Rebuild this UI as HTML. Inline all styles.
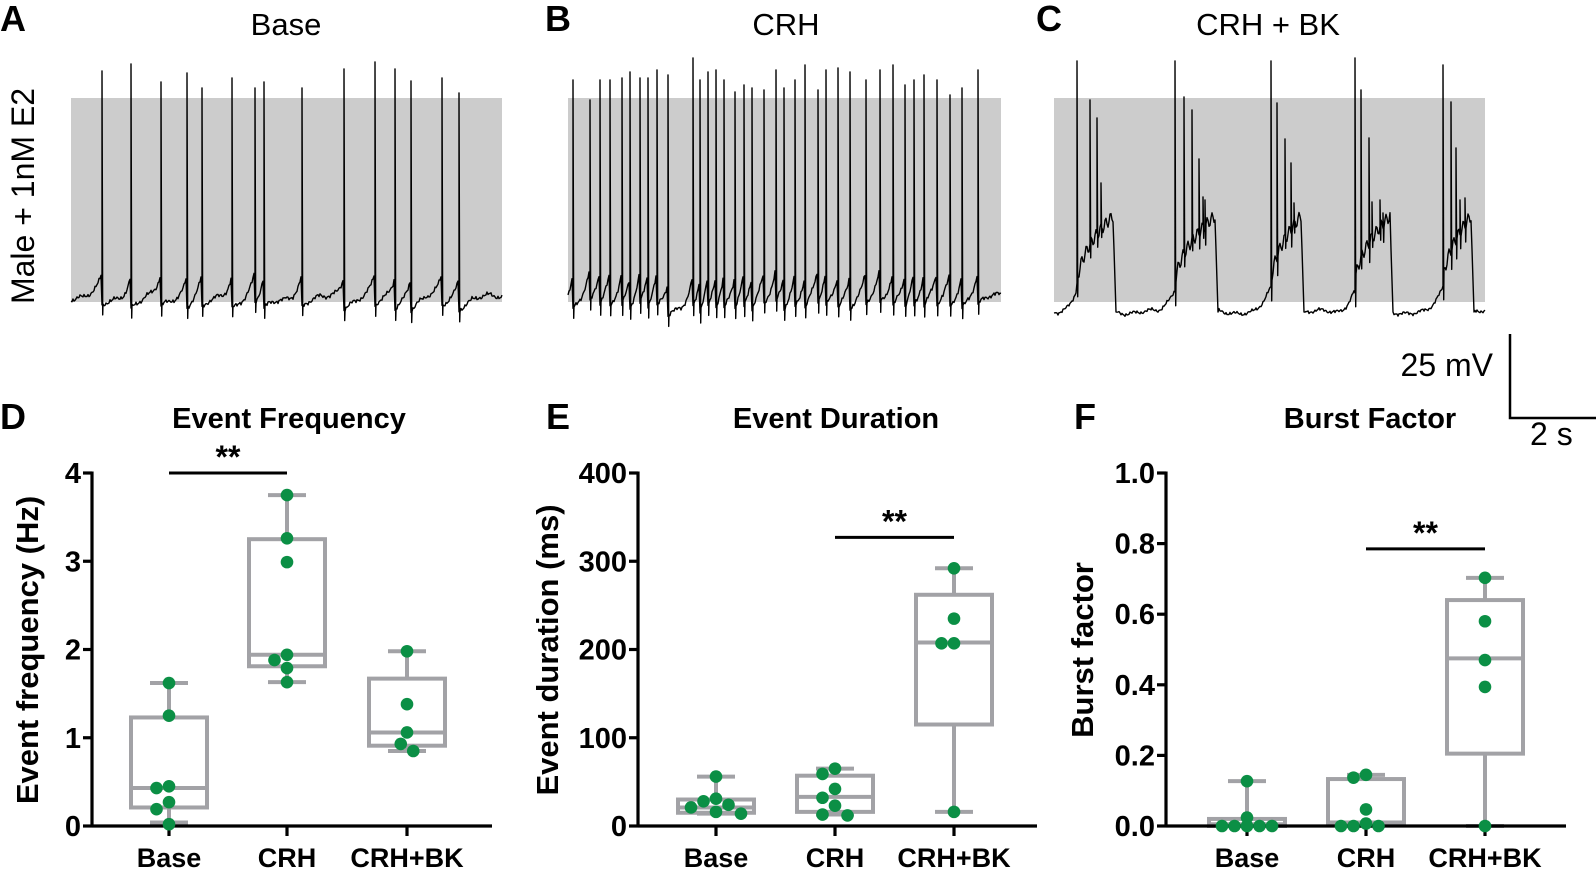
<!DOCTYPE html>
<html><head><meta charset="utf-8"><style>
html,body{margin:0;padding:0;background:#fff;}
svg{display:block;font-family:"Liberation Sans",sans-serif;}
</style></head><body>
<svg id="fig" width="1596" height="869" viewBox="0 0 1596 869">
<rect width="1596" height="869" fill="#fff"/>
<g id="traces"></g>
<g id="charts"></g>
</svg>
<script>
// ---------- Trace data (spike times in px, peak tops in px) ----------
const traceASpikes = [102,131,161,187,202,232,255,264,302,344,375,395,411,442,459];
const traceAPeaks  = [71,64,82,73,88,78,88,82,88,69,62,69,81,78,93];
const traceBSpikes = [565,573,590,600,610,622,630,640,648,657,668,693,700,708,716,724,735,744,752,764,776,784,795,805,818,826,838,850,866,880,893,905,914,924,937,950,962,978];
const traceBPeaks  = [105,80,100,80,80,78,72,78,78,70,75,58,80,72,70,80,92,85,88,90,70,88,80,65,90,70,68,72,80,70,65,85,80,75,80,95,88,70];
const burstCSpikes = [[1077,1090,1097,1101],[1175,1184,1192,1199,1203,1205],[1271,1277,1285,1291,1294],[1355,1361,1369,1372,1380,1383],[1443,1451,1456,1460,1465]];
const burstCPeaks  = [[61,100,118,183],[61,97,110,159,197,200],[61,103,139,163,203],[58,90,138,202,200,213],[65,102,148,200,198]];
const burstCEnds   = [1113,1215,1301,1390,1471];

// ---------- Box chart data ----------
const groups = ["Base","CRH","CRH+BK"];
const freqPoints = [[1.62,1.25,0.45,0.43,0.27,0.19,0.02],[3.75,3.26,2.99,1.94,1.88,1.79,1.63],[1.98,1.38,1.06,0.93,0.85]];
const freqStats  = [[0.04,0.21,0.43,1.23,1.62],[1.63,1.81,1.94,3.25,3.75],[0.85,0.91,1.06,1.67,1.98]];
const freqTicks  = [0,1,2,3,4];
const durPoints  = [[56,31,28,24,21,16,14],[65,59,42,32,23,13,12],[292,235,207,207,16]];
const durStats   = [[14,15,21,30,56],[13,16,33,57,65],[16,115,208,262,292]];
const durTicks   = [0,100,200,300,400];
const burstPoints= [[0.127,0.024,0,0,0,0,0],[0.145,0.137,0.047,0.007,0,0,0],[0.703,0.58,0.47,0.394,0]];
const burstStats = [[0,0,0.005,0.02,0.127],[0,0.01,0.01,0.133,0.145],[0,0.205,0.475,0.64,0.703]];
const burstTicks = [0.0,0.2,0.4,0.6,0.8,1.0];

const NS="http://www.w3.org/2000/svg";
function mk(tag,attrs,parent,text){const e=document.createElementNS(NS,tag);for(const k in attrs)e.setAttribute(k,attrs[k]);if(text!==undefined)e.textContent=text;parent.appendChild(e);return e;}
const T=document.getElementById('traces'), C=document.getElementById('charts'), F=document.getElementById('fig');

function noise(x){return Math.sin(x*1.7)*1.1+Math.sin(x*0.37)*1.8+Math.sin(x*0.113)*2.2+Math.sin(x*2.9)*0.7;}

function spikeTrace(x0,x1,base,spikes,peaks,name,dipFn){
  const pts=[];
  for(let x=x0;x<=x1;x++){
    let v=base+noise(x)+(dipFn?dipFn(x):0);
    spikes.forEach(s=>{const d=s-x; if(d>0&&d<18)v-=24*Math.exp(-d/5); const a=x-s; if(a>=0&&a<30)v+=10*Math.exp(-a/10);});
    pts.push(x+','+v.toFixed(1));
    const i=spikes.indexOf(x);
    if(i>=0){pts.push(x+','+peaks[i]);pts.push((x+0.7)+','+(v+10).toFixed(1));}
  }
  const p=mk('polyline',{points:pts.join(' '),fill:'none',stroke:'#000','stroke-width':1.4,'stroke-linejoin':'round'},T);
  
  
}
function burstTrace(x0,x1,base,name){
  const pts=[];
  for(let x=x0;x<=x1;x++){
    let v=base+noise(x)*0.8;
    let spikeIdx=-1, b=-1;
    burstCSpikes.forEach((sp,bi)=>{
      const s0=sp[0], e=burstCEnds[bi];
      if(x>=s0-20&&x<s0){const t=1-(s0-x)/20; v=base-24*t*t+noise(x)*0.8;}
      if(x>=s0&&x<=e){const t=(x-s0)/(e-s0); v=288-72*Math.sqrt(t)+Math.sin(x*1.3)*6;}
      if(x>e&&x<=e+3){v=218+(base-218)*(x-e)/3;}
      sp.forEach((s,j)=>{if(s===x){spikeIdx=j;b=bi;}});
    });
    pts.push(x+','+v.toFixed(1));
    if(spikeIdx>=0){pts.push(x+','+burstCPeaks[b][spikeIdx]);pts.push((x+0.7)+','+(v+14).toFixed(1));}
  }
  const p=mk('polyline',{points:pts.join(' '),fill:'none',stroke:'#000','stroke-width':1.4,'stroke-linejoin':'round'},T);
  
  
}
[[71,502,'shade-a'],[568,1001,'shade-b'],[1054,1485,'shade-c']].forEach(s=>{
  const r=mk('rect',{x:s[0],y:98,width:s[1]-s[0],height:204,fill:'#cccccc'},T);
  
  
});
spikeTrace(71,502,297,traceASpikes,traceAPeaks,'trace-base');
spikeTrace(568,1001,294,traceBSpikes,traceBPeaks,'trace-crh',x=>(x>655&&x<720)?10*Math.sin((x-655)/65*Math.PI):0);
burstTrace(1054,1485,312,'trace-crh-bk');

function txt(x,y,s,attrs,name,parent){const t=mk('text',Object.assign({x:x,y:y},attrs),parent||F,s);return t;}
txt(0,31,'A',{'font-size':36,'font-weight':'bold'},'panel-label-a');
txt(545,31,'B',{'font-size':36,'font-weight':'bold'},'panel-label-b');
txt(1036,31,'C',{'font-size':36,'font-weight':'bold'},'panel-label-c');
txt(286,35,'Base',{'font-size':31,'text-anchor':'middle'},'title-base');
txt(786,35,'CRH',{'font-size':31,'text-anchor':'middle'},'title-crh');
txt(1268,35,'CRH + BK',{'font-size':31,'text-anchor':'middle'},'title-crh-bk');
txt(0,0,'Male + 1nM E2',{'font-size':32,'text-anchor':'middle',transform:'translate(34,196) rotate(-90)'},'row-label');
const sb=mk('path',{d:'M1510,334 V418 H1596',fill:'none',stroke:'#000','stroke-width':2.5},F);


txt(1493,376,'25 mV',{'font-size':32,'text-anchor':'end'},'scale-mv-label');
txt(1530,445,'2 s',{'font-size':32},'scale-s-label');

function boxChart(o){
  const g=mk('g',{},C);  
  const y0=826,y1=473;
  const ys=v=>y0-(v-o.min)/(o.max-o.min)*(y0-y1);
  const xs=i=>o.cats[i];
  o.stats.forEach((s,i)=>{
    const cx=xs(i),hw=38,cw=19,st='#a2a2a6';
    const bg=mk('g',{},g);  
    mk('line',{x1:cx,x2:cx,y1:ys(s[4]),y2:ys(s[3]),stroke:st,'stroke-width':4},bg);
    mk('line',{x1:cx,x2:cx,y1:ys(s[1]),y2:ys(s[0]),stroke:st,'stroke-width':4},bg);
    mk('line',{x1:cx-cw,x2:cx+cw,y1:ys(s[4]),y2:ys(s[4]),stroke:st,'stroke-width':4},bg);
    mk('line',{x1:cx-cw,x2:cx+cw,y1:ys(s[0]),y2:ys(s[0]),stroke:st,'stroke-width':4},bg);
    mk('rect',{x:cx-hw,y:ys(s[3]),width:2*hw,height:Math.max(0.5,ys(s[1])-ys(s[3])),fill:'none',stroke:st,'stroke-width':4},bg);
    mk('line',{x1:cx-hw,x2:cx+hw,y1:ys(s[2]),y2:ys(s[2]),stroke:st,'stroke-width':4},bg);
  });
  mk('line',{x1:o.ax,x2:o.ax,y1:y1-1.5,y2:y0+1.5,stroke:'#000','stroke-width':3.2},g);
  mk('line',{x1:o.ax,x2:o.xend,y1:y0,y2:y0,stroke:'#000','stroke-width':3.2},g);
  o.ticks.forEach(t=>{
    mk('line',{x1:o.ax-9,x2:o.ax,y1:ys(t),y2:ys(t),stroke:'#000','stroke-width':3.2},g);
    txt(o.ax-11,ys(t)+10,o.fmt(t),{'font-size':29,'font-weight':'bold','text-anchor':'end'},'y-tick-label',g);
  });
  groups.forEach((gname,i)=>{
    mk('line',{x1:xs(i),x2:xs(i),y1:y0,y2:y0+10,stroke:'#000','stroke-width':3.2},g);
    txt(xs(i),867,gname,{'font-size':27,'font-weight':'bold','text-anchor':'middle'},'x-tick-label',g);
  });
  txt(0,0,o.ytitle,{'font-size':31,'font-weight':'bold','text-anchor':'middle',transform:'translate('+o.ytx+',650) rotate(-90)'},'y-axis-title',g);
  txt(o.titleX,428,o.title,{'font-size':29,'font-weight':'bold','text-anchor':'middle'},'chart-title',g);
  txt(o.ax-92,429,o.letter,{'font-size':36,'font-weight':'bold'},'panel-label',g);
  const sy=ys(o.sig[2]);
  const sl=mk('line',{x1:xs(o.sig[0]),x2:xs(o.sig[1]),y1:sy,y2:sy,stroke:'#000','stroke-width':3},g);
   
  txt((xs(o.sig[0])+xs(o.sig[1]))/2,sy-5,'**',{'font-size':32,'font-weight':'bold','text-anchor':'middle'},'significance-stars',g);
  o.points.forEach((arr,i)=>{
    const placed=[]; const d=12.5;
    arr.slice().sort((a,b)=>b-a).forEach(v=>{
      const py=ys(v); let off=0;
      const cand=[0]; for(let k=1;k<6;k++){cand.push(-k*d*0.5, k*d*0.5);}
      for(const c of cand){ if(placed.every(p=>Math.hypot(p[0]-c,p[1]-py)>=d)){off=c;break;} }
      placed.push([off,py]);
      const c=mk('circle',{cx:xs(i)+off,cy:py,r:6.3,fill:'#0b8f45'},g);
      
      
    });
  });
}
boxChart({name:'event-frequency-chart',letter:'D',title:'Event Frequency',titleX:289,ytitle:'Event frequency (Hz)',ytx:38,ax:92,xend:492,cats:[169,287,407],min:0,max:4,ticks:freqTicks,fmt:t=>String(t),points:freqPoints,stats:freqStats,sig:[0,1,4]});
boxChart({name:'event-duration-chart',letter:'E',title:'Event Duration',titleX:836,ytitle:'Event duration (ms)',ytx:558,ax:638,xend:1037,cats:[716,835,954],min:0,max:400,ticks:durTicks,fmt:t=>String(t),points:durPoints,stats:durStats,sig:[1,2,327]});
boxChart({name:'burst-factor-chart',letter:'F',title:'Burst Factor',titleX:1370,ytitle:'Burst factor',ytx:1093,ax:1166,xend:1566,cats:[1247,1366,1485],min:0,max:1,ticks:burstTicks,fmt:t=>t.toFixed(1),points:burstPoints,stats:burstStats,sig:[1,2,0.785]});
</script>
</body></html>
